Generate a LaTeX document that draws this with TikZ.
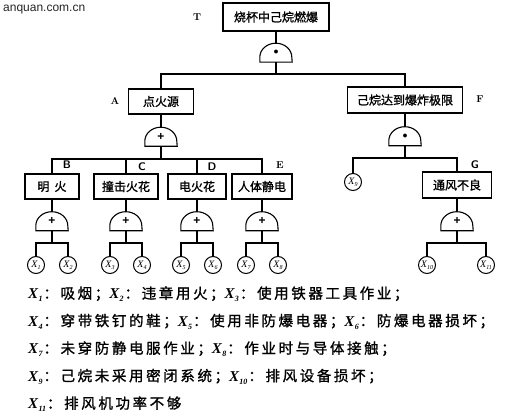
\documentclass[tikz,border=0pt]{standalone}
\usepackage{fontspec}
\newfontfamily\cjk[FakeBold=1.2]{Noto Sans CJK SC}
\newfontfamily\cjkls[LetterSpace=18,FakeBold=1.2]{Noto Sans CJK SC}
\newfontfamily\wmfont{Liberation Sans}
\newfontfamily\xfont{Liberation Serif}
\newcommand\Xn[1]{{\xfont\fontsize{15}{15}\selectfont\itshape\bfseries X\kern0.3pt\raisebox{-3pt}{\fontsize{8}{8}\selectfont #1}\kern1pt}}
\newcommand\Xc[1]{{\xfont\fontsize{10}{10}\selectfont\itshape X\raisebox{-2pt}{\fontsize{6}{6}\selectfont #1}}}
\newcommand\plusg{{\wmfont\bfseries\fontsize{12}{12}\selectfont\raisebox{-2pt}{+}}}
\tikzset{
  ev/.style={draw, line width=1.1pt, inner sep=0pt, minimum height=25pt, font=\cjk\fontsize{12}{12}\selectfont},
  gate/.style={minimum width=32pt, minimum height=19pt, inner sep=0pt},
  basic/.style={draw, circle, line width=1pt, minimum size=17pt, inner sep=0pt},
  lbl/.style={font=\bfseries\fontsize{10}{10}\selectfont},
  lbls/.style={font=\sffamily\bfseries\fontsize{11}{11}\selectfont},
  con/.style={line width=1.1pt},
  leg/.style={anchor=west, inner sep=0pt, font=\cjkls\fontsize{14.5}{14.5}\selectfont}
}
\begin{document}
\begin{tikzpicture}[x=1pt,y=1pt]
\useasboundingbox (0,0) rectangle (516,416);
\fill[white] (0,0) rectangle (516,416);
% watermark
\node[anchor=west, inner sep=0pt, font=\wmfont\fontsize{12}{12}\selectfont, text=black!85] (wm) at (3,406) {anquan.com.cn};
% events
\node[ev, minimum width=106pt, minimum height=28pt] (T) at (276,399) {烧杯中己烷燃爆};
\node[lbl] (lT) at (197,399) {T};
\node[gate] (gT) at (276,363.5) {$\bullet$};
\coordinate (busT) at (0,342);
\node[ev, minimum width=65pt] (A) at (161,314.5) {点火源};
\node[lbl] (lA) at (115,315) {A};
\node[ev, minimum width=115pt, minimum height=26pt] (F) at (405,316) {己烷达到爆炸极限};
\node[lbl] (lF) at (480,317) {F};
\node[gate] (gA) at (161,279.5) {\plusg};
\node[gate] (gF) at (405,280) {$\bullet$};
\coordinate (busA) at (0,257);
\coordinate (busF) at (0,258);
% level 3
\node[ev, minimum width=54pt] (B) at (52,229.5) {明\hspace{5pt}火};
\node[ev, minimum width=64pt] (C) at (126,229.5) {撞击火花};
\node[ev, minimum width=58pt] (D) at (197,229.5) {电火花};
\node[ev, minimum width=60pt] (E) at (262,229.5) {人体静电};
\node[ev, minimum width=69pt, minimum height=26pt] (G) at (457,231) {通风不良};
\node[lbls] (lB) at (67,251) {B};
\node[lbls] (lC) at (142,249) {C};
\node[lbls] (lD) at (212,249) {D};
\node[lbl] (lE) at (280,251) {E};
\node[lbls] (lG) at (475,251) {G};
\node[basic] (x9) at (353,234) {\Xc{9}};
% gates level 3
\foreach \n/\x in {gB/52,gC/126,gD/197,gE/262,gG/457}
  \node[gate] (\n) at (\x,195) {\plusg};
\coordinate (busL) at (0,173);
% basic events
\node[basic] (x1) at (36,151) {\Xc{1}};
\node[basic] (x2) at (68,151) {\Xc{2}};
\node[basic] (x3) at (110,151) {\Xc{3}};
\node[basic] (x4) at (142,151) {\Xc{4}};
\node[basic] (x5) at (181,151) {\Xc{5}};
\node[basic] (x6) at (213,151) {\Xc{6}};
\node[basic] (x7) at (246,151) {\Xc{7}};
\node[basic] (x8) at (278,151) {\Xc{8}};
\node[basic] (x10) at (427,151) {\Xc{10}};
\node[basic] (x11) at (486,151) {\Xc{11}};
% gate domes
\foreach \g in {gT,gA,gF,gB,gC,gD,gE,gG}
  \draw[con] (\g.south west) -- ++(0,5) arc[start angle=180, end angle=0, x radius=16, y radius=14] -- (\g.south east) -- cycle;
% connectors
\draw[con] (T.south) -- (gT.north);
\draw[con] (gT.south) -- (gT.south |- busT) -| (A.north);
\draw[con] (gT.south |- busT) -| (F.north);
\draw[con] (A.south) -- (gA.north);
\draw[con] (F.south) -- (gF.north);
\draw[con] (gA.south) -- (gA.south |- busA) -| (B.north);
\draw[con] (gA.south |- busA) -| (C.north);
\draw[con] (gA.south |- busA) -| (D.north);
\draw[con] (gA.south |- busA) -| (E.north);
\draw[con] (gF.south) -- (gF.south |- busF) -| (x9.north);
\draw[con] (gF.south |- busF) -| (G.north);
\foreach \e/\g/\a/\b in {B/gB/x1/x2, C/gC/x3/x4, D/gD/x5/x6, E/gE/x7/x8, G/gG/x10/x11} {
  \draw[con] (\e.south) -- (\g.north);
  \draw[con] (\g.south) -- (\g.south |- busL) -| (\a.north);
  \draw[con] (\g.south |- busL) -| (\b.north);
}
% legend
\node[leg] (L1) at (28,122) {\Xn{1}：吸烟；\Xn{2}：违章用火；\Xn{3}：使用铁器工具作业；};
\node[leg] (L2) at (28,94.5) {\Xn{4}：穿带铁钉的鞋；\Xn{5}：使用非防爆电器；\Xn{6}：防爆电器损坏；};
\node[leg] (L3) at (28,67) {\Xn{7}：未穿防静电服作业；\Xn{8}：作业时与导体接触；};
\node[leg] (L4) at (28,39.5) {\Xn{9}：己烷未采用密闭系统；\Xn{10}：排风设备损坏；};
\node[leg] (L5) at (28,12) {\Xn{11}：排风机功率不够};
\end{tikzpicture}
\end{document}
